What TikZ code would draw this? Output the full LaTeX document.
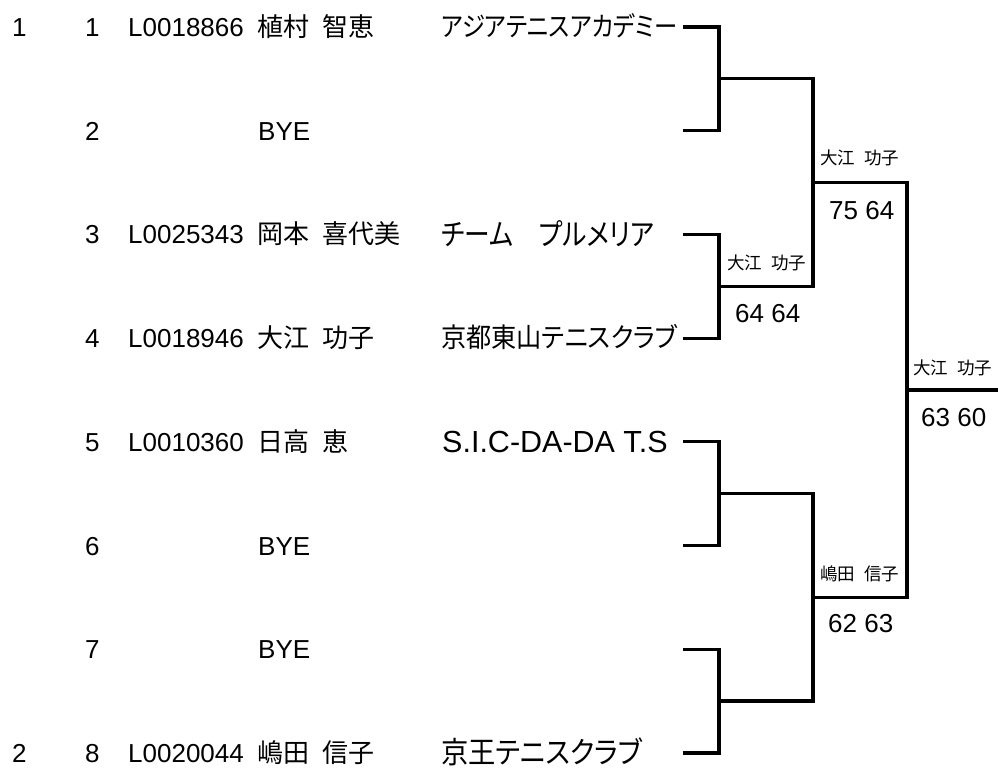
\documentclass[tikz,border=0pt]{standalone}
\usepackage{fontspec}
\usepackage{graphicx}
\setmainfont{Liberation Sans}
\newfontfamily\jp[WordSpace=2.8]{Noto Sans CJK JP}
\newfontfamily\jpw[WordSpace=2.3]{Noto Sans CJK JP}
\newfontfamily\jpp[RawFeature=+palt]{Noto Sans CJK JP}
\begin{document}
\begin{tikzpicture}[x=1pt,y=-1pt,
  txt/.style={anchor=base west, inner sep=0pt, font=\fontsize{26}{30}\selectfont},
  nametxt/.style={anchor=base west, inner sep=0pt, font=\fontsize{26}{30}\selectfont\jp},
  clubtxt/.style={anchor=base west, inner sep=0pt, font=\fontsize{27}{30}\selectfont\jpp},
  bigclub/.style={anchor=base west, inner sep=0pt, font=\fontsize{30}{34}\selectfont\jpp},
  wintxt/.style={anchor=base west, inner sep=0pt, font=\fontsize{17.5}{20}\selectfont\jpw},
  scoretxt/.style={anchor=base west, inner sep=0pt, font=\fontsize{26}{30}\selectfont},
  bracket/.style={line width=3.2pt, black}]
\useasboundingbox (0,0) rectangle (998,769);
% rows
\def\ya{27}\def\yb{130.7}\def\yc{234.4}\def\yd{338.1}
\def\ye{441.8}\def\yf{545.5}\def\yg{649.2}\def\yh{752.9}
% seeds
\node[txt] (seed1) at (12,\ya+9.5) {1};
\node[txt] (seed2) at (12,\yh+9.5) {2};
% draw numbers
\node[txt] (d1) at (85,\ya+9.5) {1};
\node[txt] (d2) at (85,\yb+9.5) {2};
\node[txt] (d3) at (85,\yc+9.5) {3};
\node[txt] (d4) at (85,\yd+9.5) {4};
\node[txt] (d5) at (85,\ye+9.5) {5};
\node[txt] (d6) at (85,\yf+9.5) {6};
\node[txt] (d7) at (85,\yg+9.5) {7};
\node[txt] (d8) at (85,\yh+9.5) {8};
% ids
\node[txt] (id1) at (128,\ya+9.5) {L0018866};
\node[txt] (id3) at (128,\yc+9.5) {L0025343};
\node[txt] (id4) at (128,\yd+9.5) {L0018946};
\node[txt] (id5) at (128,\ye+9.5) {L0010360};
\node[txt] (id8) at (128,\yh+9.5) {L0020044};
% names
\node[nametxt] (nm1) at (257,\ya+9.5) {植村 智恵};
\node[txt] (nm2) at (258,\yb+9.5) {BYE};
\node[nametxt] (nm3) at (257,\yc+9.5) {岡本 喜代美};
\node[nametxt] (nm4) at (257,\yd+9.5) {大江 功子};
\node[nametxt] (nm5) at (257,\ye+9.5) {日高 恵};
\node[txt] (nm6) at (258,\yf+9.5) {BYE};
\node[txt] (nm7) at (258,\yg+9.5) {BYE};
\node[nametxt] (nm8) at (257,\yh+9.5) {嶋田 信子};
% clubs
\node[clubtxt] (cl1) at (441,\ya+9.5) {\resizebox{236pt}{\height}{アジアテニスアカデミー}};
\node[bigclub] (cl3) at (441,\yc+11) {\resizebox{213pt}{\height}{チーム　プルメリア}};
\node[clubtxt] (cl4) at (441,\yd+9.5) {\resizebox{236pt}{\height}{京都東山テニスクラブ}};
\node[txt, font=\fontsize{30.5}{34}\selectfont] (cl5) at (442,\ye+11) {S.I.C-DA-DA T.S};
\node[bigclub] (cl8) at (441,\yh+11) {\resizebox{201pt}{\height}{京王テニスクラブ}};
% bracket coordinates
\coordinate (a1) at (683,\ya);
\coordinate (a2) at (683,\yb);
\coordinate (a3) at (683,\yc);
\coordinate (a4) at (683,\yd);
\coordinate (a5) at (683,\ye);
\coordinate (a6) at (683,\yf);
\coordinate (a7) at (683,\yg);
\coordinate (a8) at (683,\yh);
\coordinate (m1) at (719,{(\ya+\yb)/2});
\coordinate (m2) at (719,{(\yc+\yd)/2});
\coordinate (m3) at (719,{(\ye+\yf)/2});
\coordinate (m4) at (719,{(\yg+\yh)/2});
\coordinate (q1) at (813,{(\ya+\yb+\yc+\yd)/4});
\coordinate (q2) at (813,{(\ye+\yf+\yg+\yh)/4});
\coordinate (f) at (907,{(\ya+\yb+\yc+\yd+\ye+\yf+\yg+\yh)/8});
\coordinate (fin) at (998,{(\ya+\yb+\yc+\yd+\ye+\yf+\yg+\yh)/8});
\draw[bracket] (a1) -| (m1) |- (a2);
\draw[bracket] (a3) -| (m2) |- (a4);
\draw[bracket] (a5) -| (m3) |- (a6);
\draw[bracket] (a7) -| (m4) |- (a8);
\draw[bracket] (m1) -| (q1) |- (m2);
\draw[bracket] (m3) -| (q2) |- (m4);
\draw[bracket] (q1) -| (f) |- (q2);
\draw[bracket] (f) -- (fin);
% winners and scores
\node[wintxt] (w1) at (727,269) {大江 功子};
\node[scoretxt] (s1) at (735,322) {64 64};
\node[wintxt] (w2) at (820,164) {大江 功子};
\node[scoretxt] (s2) at (829,219) {75 64};
\node[wintxt] (w3) at (820,580) {嶋田 信子};
\node[scoretxt] (s3) at (828,632) {62 63};
\node[wintxt] (w4) at (913,374) {大江 功子};
\node[scoretxt] (s4) at (921,426) {63 60};
\end{tikzpicture}
\end{document}
